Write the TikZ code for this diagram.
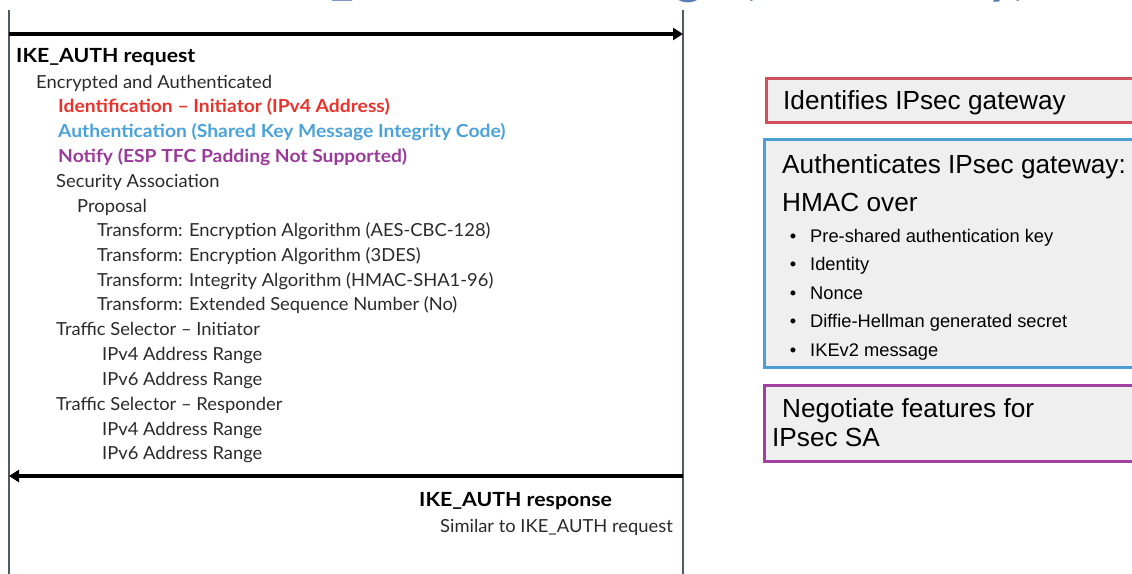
\documentclass[tikz,border=0pt]{standalone}
\usepackage{fontspec}
\setmainfont{Lato}
\newfontfamily\latoreg{Lato}[FakeStretch=1.02]
\newfontfamily\latobold{Lato Bold}[FakeStretch=1.07]
\newfontfamily\latohdr{Lato Bold}[FakeStretch=1.09]
\newfontfamily\latotitle{Lato Bold}[FakeStretch=1.12]
\newfontfamily\arialf{Liberation Sans}
\usetikzlibrary{arrows.meta}
\definecolor{txt}{HTML}{2A2A2A}
\definecolor{lifeline}{HTML}{4F5A64}
\definecolor{idred}{HTML}{E8322B}
\definecolor{authblue}{HTML}{4AA2DA}
\definecolor{notpurple}{HTML}{9A3A9A}
\definecolor{titleblue}{HTML}{5A7DB0}
\definecolor{boxfill}{HTML}{EFEFEF}
\definecolor{boxred}{HTML}{D0505F}
\definecolor{boxblue}{HTML}{4A9FD5}
\definecolor{boxpurple}{HTML}{A040A0}
\begin{document}
\begin{tikzpicture}[x=1pt,y=-1pt,
  lbl/.style={anchor=base west,inner sep=0pt,text=txt,font=\latoreg\fontsize{18}{21}\selectfont},
  hdr/.style={anchor=base west,inner sep=0pt,text=black,font=\latohdr\fontsize{19.5}{23}\selectfont},
  col/.style={anchor=base west,inner sep=0pt,font=\latobold\fontsize{18}{21}\selectfont},
  msg/.style={line width=3.6pt,black,-{Triangle[length=10pt,width=12pt]}},
  life/.style={line width=1.8pt,lifeline},
  infobox/.style={line width=3pt,fill=boxfill},
  big/.style={anchor=base west,inner sep=0pt,text=black,font=\arialf\fontsize{26.2}{30}\selectfont},
  bul/.style={anchor=base west,inner sep=0pt,text=black,font=\arialf\fontsize{18.3}{22}\selectfont},
  dot/.style={anchor=base,inner sep=0pt,text=black,font=\arialf\fontsize{18.3}{22}\selectfont}
]
\useasboundingbox (0,0) rectangle (1132,573);
\clip (0,0) rectangle (1132,573);

% partially visible title
\node[anchor=base west,inner sep=0pt,text=titleblue,font=\latotitle\fontsize{46}{50}\selectfont] (title) at (250,-6) {IKE\_AUTH Exchange (Shared Key)};

% lifelines
\coordinate (iTop) at (9,10);
\coordinate (iBot) at (9,580);
\coordinate (rTop) at (683,10);
\coordinate (rBot) at (683,580);
\draw[life] (iTop) -- (iBot);
\draw[life] (rTop) -- (rBot);

% messages
\coordinate (reqFrom) at (9,34);
\coordinate (reqTo) at (683,34);
\coordinate (resFrom) at (683,476);
\coordinate (resTo) at (9,476);
\draw[msg] (reqFrom) -- (reqTo);
\draw[msg] (resFrom) -- (resTo);

% request content
\node[hdr] (req) at (16,62) {IKE\_AUTH request};
\node[lbl] (enc) at (36,88) {Encrypted and Authenticated};
\node[col,text=idred] (idi) at (58,112) {Identification – Initiator (IPv4 Address)};
\node[col,text=authblue] (auth) at (58,137) {Authentication (Shared Key Message Integrity Code)};
\node[col,text=notpurple] (notify) at (58,162) {Notify (ESP TFC Padding Not Supported)};
\node[lbl] (sa) at (56,187) {Security Association};
\node[lbl] (prop) at (77,212) {Proposal};
\node[lbl] (t1) at (97,236) {Transform: Encryption Algorithm (AES-CBC-128)};
\node[lbl] (t2) at (97,261) {Transform: Encryption Algorithm (3DES)};
\node[lbl] (t3) at (97,286) {Transform: Integrity Algorithm (HMAC-SHA1-96)};
\node[lbl] (t4) at (97,310) {Transform: Extended Sequence Number (No)};
\node[lbl] (tsi) at (56,335) {Traffic Selector – Initiator};
\node[lbl] (tsi4) at (102,360) {IPv4 Address Range};
\node[lbl] (tsi6) at (102,385) {IPv6 Address Range};
\node[lbl] (tsr) at (56,410) {Traffic Selector – Responder};
\node[lbl] (tsr4) at (102,435) {IPv4 Address Range};
\node[lbl] (tsr6) at (102,459) {IPv6 Address Range};

% response content
\node[hdr] (res) at (419,506) {IKE\_AUTH response};
\node[lbl] (sim) at (440,532) {Similar to IKE\_AUTH request};

% right info boxes
\draw[infobox,draw=boxred] (766,78) rectangle (1150,122);
\node[big] (idbox) at (783,109) {Identifies IPsec gateway};

\draw[infobox,draw=boxblue] (764,139) rectangle (1150,367);
\node[big] (authbox) at (782,173) {Authenticates IPsec gateway:};
\node[big] (hmac) at (782,211) {HMAC over};
\foreach \yy/\tt [count=\i] in {242/Pre-shared authentication key,270/Identity,299/Nonce,327/Diffie-Hellman generated secret,356/IKEv2 message}{
  \node[bul] (b\i) at (810,\yy) {\tt};
  \node[dot] (bd\i) at (793,\yy) {•};
}

\draw[infobox,draw=boxpurple] (764,385) rectangle (1150,461);
\node[big] (neg1) at (782,417) {Negotiate features for};
\node[big] (neg2) at (772,446) {IPsec SA};
\end{tikzpicture}
\end{document}
